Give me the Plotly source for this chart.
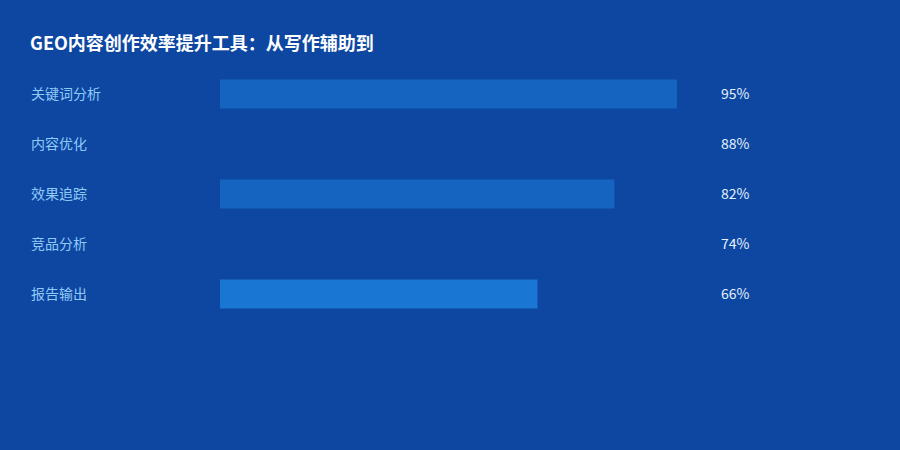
import plotly.graph_objects as go

# 数据
categories = ['关键词分析', '内容优化', '效果追踪', '竞品分析', '报告输出']
values = [95, 88, 82, 74, 66]
value_labels = ['95%', '88%', '82%', '74%', '66%']
bar_colors = ['#1565C0', '#0D47A1', '#1565C0', '#0D47A1', '#1976D2']

BG = '#0D47A1'
FONT = 'Noto Sans CJK SC'

W, H = 900, 450
ML, MR, MT, MB = 220, 199, 69, 131
PLOT_W = W - ML - MR


def px_to_paper(px):
    # 像素横坐标 -> 绘图区 paper 坐标
    return (px - ML) / PLOT_W


fig = go.Figure()

fig.add_trace(go.Bar(
    x=values,
    y=categories,
    orientation='h',
    marker=dict(color=bar_colors, line=dict(width=0)),
    hoverinfo='skip',
    showlegend=False,
))

# 左侧分类标签
for cat in categories:
    fig.add_annotation(
        x=px_to_paper(30), xref='paper', xanchor='left',
        y=cat, yref='y', yanchor='middle', yshift=1,
        text=cat, showarrow=False, borderpad=0,
        font=dict(family=FONT, size=14, color='#90CAF9'),
    )

# 右侧百分比标签
for cat, lab in zip(categories, value_labels):
    fig.add_annotation(
        x=px_to_paper(720), xref='paper', xanchor='left',
        y=cat, yref='y', yanchor='middle', yshift=1,
        text=lab, showarrow=False, borderpad=0,
        font=dict(family=FONT, size=14, color='#E3F2FD'),
    )

fig.update_layout(
    width=W, height=H,
    paper_bgcolor=BG, plot_bgcolor=BG,
    margin=dict(l=ML, r=MR, t=MT, b=MB),
    bargap=0.42,
    title=dict(
        text='<b>GEO内容创作效率提升工具：从写作辅助到</b>',
        x=30 / W, xanchor='left', xref='container',
        y=1 - 44 / H, yanchor='middle', yref='container',
        font=dict(family=FONT, size=18, color='#FFFFFF'),
    ),
    font=dict(family=FONT),
)

fig.update_xaxes(range=[0, 100], visible=False, showgrid=False, zeroline=False)
fig.update_yaxes(categoryorder='array', categoryarray=categories, autorange='reversed',
                 visible=False, showgrid=False, zeroline=False)

fig.write_html('out.html', config={'displayModeBar': False},
               post_script="document.body.style.margin='0';")
